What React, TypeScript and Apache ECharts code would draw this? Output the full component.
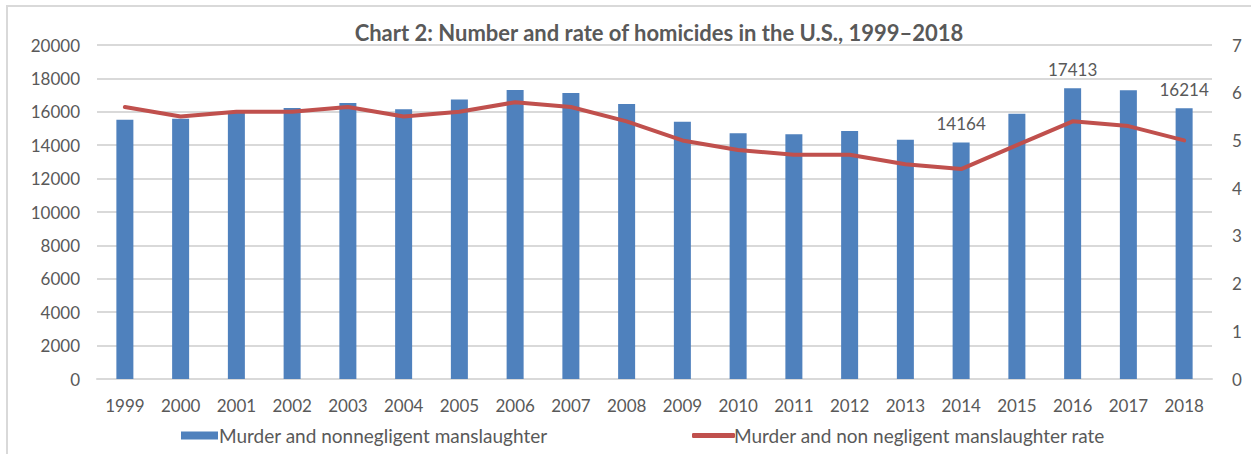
import React, { useEffect, useRef } from "react";
import * as echarts from "echarts";

const years = ["1999","2000","2001","2002","2003","2004","2005","2006","2007","2008","2009","2010","2011","2012","2013","2014","2015","2016","2017","2018"];
const murders = [15522,15586,16037,16229,16528,16148,16740,17309,17128,16465,15399,14722,14661,14856,14319,14164,15883,17413,17294,16214];
const rates = [5.7,5.5,5.6,5.6,5.7,5.5,5.6,5.8,5.7,5.4,5.0,4.8,4.7,4.7,4.5,4.4,4.9,5.4,5.3,5.0];
const labelledYears = ["2014","2016","2018"];
const titleText = "Chart 2: Number and rate of homicides in the U.S., 1999\u20132018";
const barName = "Murder and nonnegligent manslaughter";
const lineName = "Murder and non negligent manslaughter rate";

const FONT = "Lato, 'Open Sans', sans-serif";
const TXT = "#595959";

export default function App() {
  const ref = useRef<HTMLDivElement>(null);
  useEffect(() => {
    document.body.style.margin = "0";
    const chart = echarts.init(ref.current!, null, { renderer: "svg" });
    chart.setOption({
      animation: false,
      backgroundColor: "#ffffff",
      textStyle: { fontFamily: FONT, color: TXT },
      title: {
        text: titleText,
        left: 654,
        textAlign: "center",
        top: 16,
        textStyle: { fontFamily: FONT, fontSize: 22, fontWeight: "bold", color: TXT },
      },
      graphic: [
        {
          type: "rect",
          shape: { x: 7, y: 6, width: 1300, height: 500 },
          style: { fill: "none", stroke: "#D9D9D9", lineWidth: 2 },
          silent: true,
        },
      ],
      legend: [
        {
          data: [barName],
          left: 176,
          top: 421,
          itemWidth: 37,
          itemHeight: 8,
          itemGap: 0,
          icon: "rect",
          textStyle: { fontFamily: FONT, fontSize: 19, color: TXT, padding: [0, 0, 0, -4] },
        },
        {
          data: [{ name: lineName, icon: "roundRect" }],
          left: 687,
          top: 421,
          itemWidth: 43,
          itemHeight: 5,
          textStyle: { fontFamily: FONT, fontSize: 19, color: TXT, padding: [0, 0, 0, -6] },
        },
      ],
      grid: { left: 97, right: 39, top: 45, bottom: 75, containLabel: false },
      xAxis: {
        type: "category",
        data: years,
        axisLine: { lineStyle: { color: "#D9D9D9", width: 2 } },
        axisTick: { show: false },
        axisLabel: { fontFamily: FONT, fontSize: 17, color: TXT, margin: 18 },
      },
      yAxis: [
        {
          type: "value",
          min: 0,
          max: 20000,
          interval: 2000,
          axisLine: { show: false },
          axisTick: { show: false },
          splitLine: { lineStyle: { color: "#D9D9D9", width: 2 } },
          axisLabel: { fontFamily: FONT, fontSize: 17, color: TXT, margin: 17, formatter: (v: number) => String(v) },
        },
        {
          type: "value",
          min: 0,
          max: 7,
          interval: 1,
          position: "right",
          axisLine: { show: false },
          axisTick: { show: false },
          splitLine: { show: false },
          axisLabel: { fontFamily: FONT, fontSize: 17, color: TXT, margin: 20 },
        },
      ],
      series: [
        {
          name: barName,
          type: "bar",
          yAxisIndex: 0,
          barWidth: 17,
          itemStyle: { color: "#4F81BD" },
          data: murders.map((v, i) => ({
            value: v,
            label: {
              show: labelledYears.includes(years[i]),
              position: "top",
              distance: 10,
              fontFamily: FONT,
              fontSize: 17,
              color: TXT,
            },
          })),
        },
        {
          name: lineName,
          type: "line",
          yAxisIndex: 1,
          data: rates,
          symbol: "none",
          itemStyle: { color: "#C0504D" },
          lineStyle: { color: "#C0504D", width: 4, cap: "round", join: "round" },
        },
      ],
    });
    return () => chart.dispose();
  }, []);
  return <div ref={ref} style={{ position: "absolute", left: 0, top: 0, width: 1251, height: 454 }} />;
}
